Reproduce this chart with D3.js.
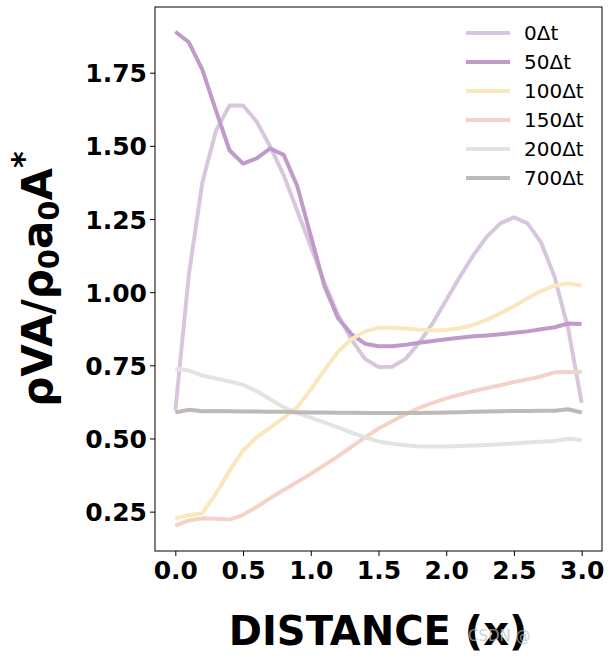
<!DOCTYPE html>
<html>
<head>
<meta charset="utf-8">
<script src="https://cdn.jsdelivr.net/npm/d3@7"></script>
<style>
  body { margin: 0; background: #fff; }
  svg { display: block; font-family: "DejaVu Sans", sans-serif; }
</style>
</head>
<body>
<svg width="610" height="659"></svg>
<script>
// x positions: 0.0 .. 3.0 step 0.1 (31 points)
const distance = [0.0, 0.1, 0.2, 0.3, 0.4, 0.5, 0.6, 0.7, 0.8, 0.9, 1.0,
  1.1, 1.2, 1.3, 1.4, 1.5, 1.6, 1.7, 1.8, 1.9, 2.0,
  2.1, 2.2, 2.3, 2.4, 2.5, 2.6, 2.7, 2.8, 2.9, 3.0];

const t0 = [0.595, 1.06, 1.376, 1.552, 1.638, 1.638, 1.583, 1.498, 1.40, 1.278, 1.156,
  1.034, 0.924, 0.839, 0.772, 0.744, 0.745, 0.772, 0.827, 0.894, 0.973,
  1.052, 1.126, 1.19, 1.235, 1.256, 1.235, 1.17, 1.052, 0.876, 0.622];
const t50 = [1.89, 1.854, 1.76, 1.62, 1.485, 1.439, 1.457, 1.491, 1.469, 1.363, 1.193,
  1.022, 0.912, 0.857, 0.824, 0.815, 0.815, 0.82, 0.827, 0.833, 0.839,
  0.844, 0.849, 0.852, 0.856, 0.861, 0.866, 0.873, 0.88, 0.893, 0.891];
const t100 = [0.227, 0.238, 0.245, 0.311, 0.39, 0.459, 0.504, 0.537, 0.571, 0.607, 0.668,
  0.733, 0.796, 0.839, 0.866, 0.878, 0.878, 0.876, 0.872, 0.87, 0.871,
  0.877, 0.888, 0.906, 0.928, 0.952, 0.979, 1.004, 1.022, 1.03, 1.022];
const t150 = [0.202, 0.22, 0.227, 0.226, 0.223, 0.239, 0.266, 0.296, 0.324, 0.351, 0.379,
  0.409, 0.439, 0.471, 0.504, 0.534, 0.559, 0.583, 0.605, 0.622, 0.637,
  0.65, 0.662, 0.672, 0.682, 0.693, 0.702, 0.712, 0.726, 0.727, 0.727];
const t200 = [0.738, 0.732, 0.715, 0.705, 0.695, 0.683, 0.662, 0.634, 0.607, 0.587, 0.571,
  0.555, 0.538, 0.52, 0.504, 0.49, 0.482, 0.477, 0.473, 0.473, 0.473,
  0.474, 0.476, 0.478, 0.48, 0.483, 0.486, 0.489, 0.491, 0.499, 0.495];
const t700 = [0.589, 0.598, 0.593, 0.594, 0.593, 0.592, 0.592, 0.591, 0.591, 0.590, 0.589,
  0.589, 0.588, 0.588, 0.587, 0.587, 0.587, 0.587, 0.587, 0.588, 0.589,
  0.590, 0.591, 0.592, 0.593, 0.594, 0.594, 0.595, 0.595, 0.600, 0.589];

const seriesNames = ["0\u0394t", "50\u0394t", "100\u0394t", "150\u0394t", "200\u0394t", "700\u0394t"];
const seriesValues = [t0, t50, t100, t150, t200, t700];
const seriesColors = ["#d8c6de", "#c09ac8", "#fae7bb", "#f5d2c8", "#e3e3e3", "#bdbab8"];

const xTicks = [0.0, 0.5, 1.0, 1.5, 2.0, 2.5, 3.0];
const yTicks = [0.25, 0.50, 0.75, 1.00, 1.25, 1.50, 1.75];

const svg = d3.select("svg");
const plotLeft = 155, plotRight = 602, plotTop = 7, plotBottom = 551;

const x = d3.scaleLinear().domain([-0.15, 3.15]).range([plotLeft, plotRight]);
const y = d3.scaleLinear().domain([0.1155, 1.9745]).range([plotBottom, plotTop]);

const line = d3.line()
  .x((d, i) => x(distance[i]))
  .y(d => y(d));

const lines = svg.append("g");
seriesValues.forEach((vals, k) => {
  lines.append("path")
    .attr("d", line(vals))
    .attr("fill", "none")
    .attr("stroke", seriesColors[k])
    .attr("stroke-width", 4)
    .attr("stroke-linejoin", "round")
    .attr("stroke-linecap", "butt");
});

// frame
svg.append("rect")
  .attr("x", plotLeft).attr("y", plotTop)
  .attr("width", plotRight - plotLeft).attr("height", plotBottom - plotTop)
  .attr("fill", "none")
  .attr("stroke", "#000")
  .attr("stroke-width", 1);

const xAxis = svg.append("g")
  .attr("transform", `translate(0,${plotBottom})`)
  .call(d3.axisBottom(x).tickValues(xTicks).tickFormat(d3.format(".1f")).tickSize(5).tickPadding(4));
const yAxis = svg.append("g")
  .attr("transform", `translate(${plotLeft},0)`)
  .call(d3.axisLeft(y).tickValues(yTicks).tickFormat(d3.format(".2f")).tickSize(5).tickPadding(3));

[xAxis, yAxis].forEach(a => {
  a.select(".domain").remove();
  a.selectAll("text")
    .attr("font-family", "DejaVu Sans")
    .attr("font-weight", "bold")
    .attr("font-size", 25)
    .attr("fill", "#000");
});
xAxis.selectAll("text").attr("dy", "0.75em");
yAxis.selectAll("text").attr("dy", "0.36em");

// axis titles
svg.append("text")
  .attr("x", 378).attr("y", 645)
  .attr("text-anchor", "middle")
  .attr("font-weight", "bold")
  .attr("font-size", 40)
  .text("DISTANCE (x)");

const yl = svg.append("text")
  .attr("transform", "translate(52,279) rotate(-90)")
  .attr("text-anchor", "middle")
  .attr("font-weight", "bold")
  .attr("font-size", 42);
yl.append("tspan").text("\u03C1VA/\u03C1");
yl.append("tspan").attr("font-size", 29).attr("dy", 7).text("0");
yl.append("tspan").attr("dy", -7).text("a");
yl.append("tspan").attr("font-size", 29).attr("dy", 7).text("0");
yl.append("tspan").attr("dy", -7).text("A");
yl.append("tspan").attr("font-size", 32).attr("dy", -18).text("*");

// legend
const legend = svg.append("g");
seriesNames.forEach((name, k) => {
  const ly = 33 + k * 29;
  legend.append("line")
    .attr("x1", 466).attr("x2", 510)
    .attr("y1", ly).attr("y2", ly)
    .attr("stroke", seriesColors[k])
    .attr("stroke-width", 4);
  legend.append("text")
    .attr("x", 524).attr("y", ly)
    .attr("dy", "0.36em")
    .attr("font-size", 20)
    .attr("fill", "#000")
    .text(name);
});

// faint watermark (overlaps the title, as in the source image)
svg.append("text")
  .attr("x", 468).attr("y", 641)
  .attr("font-size", 15)
  .attr("fill", "#bbb")
  .attr("opacity", 0.7)
  .text("CSDN @");
</script>
</body>
</html>
